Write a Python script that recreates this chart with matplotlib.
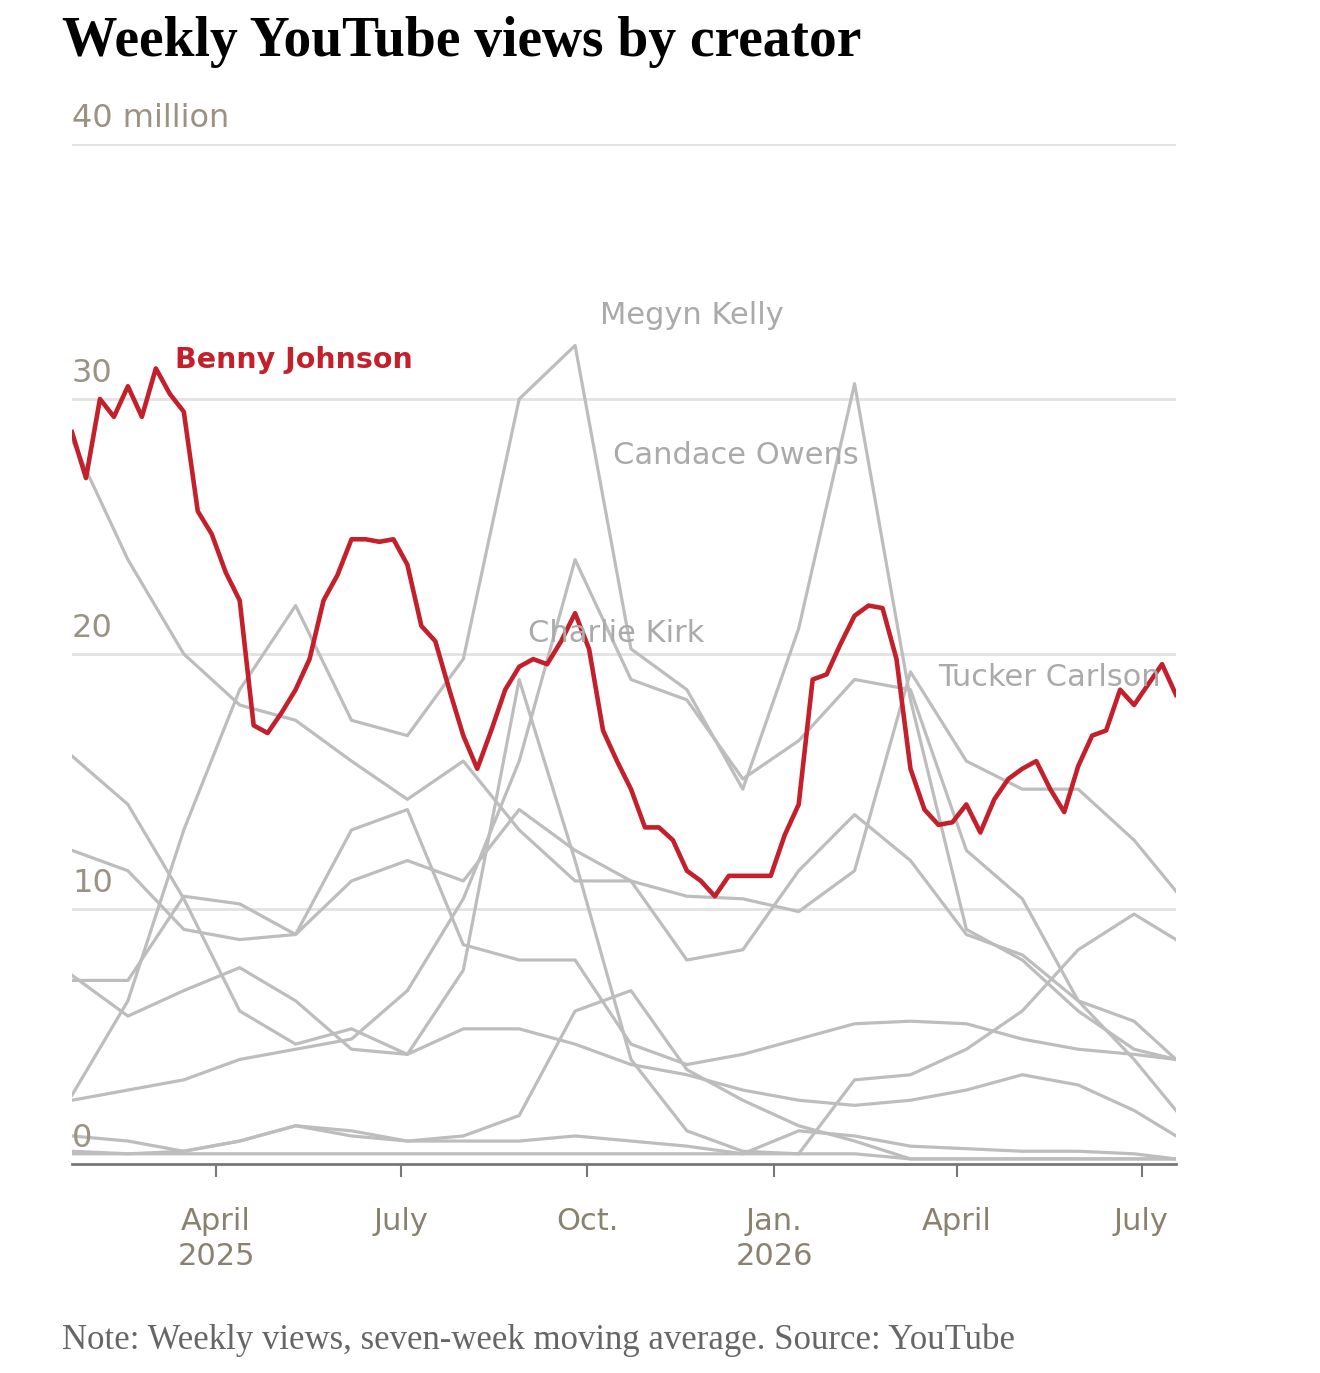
import matplotlib.pyplot as plt
import pandas as pd

# weekly dates (seven-week moving average)
weeks = pd.date_range("2025-01-20", "2026-07-18", periods=80)
gray_weeks = list(weeks[::4]) + [weeks[-1]]

benny = [28.7, 26.9, 30.0, 29.3, 30.5, 29.3, 31.2, 30.2, 29.5, 25.6,
         24.7, 23.2, 22.1, 17.2, 16.9, 17.7, 18.6, 19.8, 22.1, 23.1,
         24.5, 24.5, 24.4, 24.5, 23.5, 21.1, 20.5, 18.6, 16.8, 15.5,
         17.0, 18.6, 19.5, 19.8, 19.6, 20.5, 21.6, 20.2, 17.0, 15.8,
         14.7, 13.2, 13.2, 12.7, 11.5, 11.1, 10.5, 11.3, 11.3, 11.3,
         11.3, 12.9, 14.1, 19.0, 19.2, 20.4, 21.5, 21.9, 21.8, 19.8,
         15.5, 13.9, 13.3, 13.4, 14.1, 13.0, 14.3, 15.1, 15.5, 15.8,
         14.7, 13.8, 15.6, 16.8, 17.0, 18.6, 18.0, 18.8, 19.6, 18.4]

megyn = [2.7, 6.4, 13.1, 18.6, 21.9, 17.4, 16.8, 19.8, 30.0, 32.1, 20.2,
         18.6, 14.7, 21.0, 30.6, 18.2, 9.2, 8.0, 6.0, 4.5, 4.1]
tucker = [28.4, 23.7, 20.0, 18.0, 17.4, 15.8, 14.3, 15.8, 13.1, 11.1, 11.1,
          10.5, 10.4, 9.9, 11.5, 19.3, 15.8, 14.7, 14.7, 12.7, 10.7]
charlie = [16.0, 14.1, 10.4, 6.0, 4.7, 5.3, 4.3, 7.6, 19.0, 11.9, 4.1,
           1.3, 0.5, 0.4, 0.4, 0.2, 0.2, 0.2, 0.2, 0.2, 0.2]
candace = [2.5, 2.9, 3.3, 4.1, 4.5, 4.9, 6.8, 10.4, 15.8, 23.7, 19.0,
           18.2, 15.1, 16.6, 19.0, 18.6, 12.3, 10.4, 6.4, 4.1, 2.1]
other_a = [12.3, 11.5, 9.2, 8.8, 9.0, 11.1, 11.9, 11.1, 13.9, 12.3, 11.1,
           8.0, 8.4, 11.5, 13.7, 11.9, 9.0, 8.2, 6.4, 5.6, 4.1]
other_b = [7.4, 5.8, 6.8, 7.7, 6.4, 4.5, 4.3, 5.3, 5.3, 4.7, 3.9,
           3.5, 2.9, 2.5, 2.3, 2.5, 2.9, 3.5, 3.1, 2.1, 1.1]
other_c = [7.2, 7.2, 10.5, 10.2, 9.0, 13.1, 13.9, 8.6, 8.0, 8.0, 4.7,
           3.9, 4.3, 4.9, 5.5, 5.6, 5.5, 4.9, 4.5, 4.3, 4.1]
other_d = [0.5, 0.4, 0.5, 0.9, 1.5, 1.3, 0.9, 1.1, 1.9, 6.0, 6.8,
           3.7, 2.5, 1.5, 0.9, 0.2, 0.2, 0.2, 0.2, 0.2, 0.2]
other_e = [1.1, 0.9, 0.5, 0.9, 1.5, 1.1, 0.9, 0.9, 0.9, 1.1, 0.9,
           0.7, 0.4, 1.3, 1.1, 0.7, 0.6, 0.5, 0.5, 0.4, 0.2]
other_f = [0.4, 0.4, 0.4, 0.4, 0.4, 0.4, 0.4, 0.4, 0.4, 0.4, 0.4,
           0.4, 0.4, 0.4, 3.3, 3.5, 4.5, 6.0, 8.4, 9.8, 8.8]
gray_series = [megyn, tucker, charlie, candace, other_a, other_b,
               other_c, other_d, other_e, other_f]

tick_dates = pd.to_datetime(["2025-04-01", "2025-07-01", "2025-10-01",
                             "2026-01-01", "2026-04-01", "2026-07-01"])
tick_labels = ["April\n2025", "July", "Oct.", "Jan.\n2026", "April", "July"]

W, H = 1320, 1373
fig = plt.figure(figsize=(W / 100, H / 100), dpi=100)
ax = fig.add_axes([72 / W, 1 - 1164 / H, (1176 - 72) / W, (1164 - 144) / H])

RED = "#c3202b"
GRAY = "#bdbdbd"
TXT = "#9a9283"

for yv in [10, 20, 30, 40]:
    ax.axhline(yv, color="#e2e2e2", lw=2, zorder=0)

for s in gray_series:
    ax.plot(gray_weeks, s, color=GRAY, lw=2.3, zorder=1)
ax.plot(weeks, benny, color=RED, lw=3.3, zorder=3, solid_joinstyle="round")

ax.set_xlim(weeks[0], weeks[-1])
ax.set_ylim(0, 40)
for sp in ["top", "right", "left"]:
    ax.spines[sp].set_visible(False)
ax.spines["bottom"].set_color("#777777")
ax.spines["bottom"].set_linewidth(2)
ax.set_yticks([])
ax.set_xticks(tick_dates)
ax.set_xticklabels(tick_labels, fontsize=22, color="#8a8270", linespacing=1.25)
ax.tick_params(axis="x", length=9, width=1.5, color="#777777", pad=22)

for yv, lab in [(0, "0"), (10, "10"), (20, "20"), (30, "30"), (40, "40 million")]:
    ax.text(weeks[0], yv + 0.4, lab, fontsize=23, color=TXT, va="bottom", ha="left")

fig.text(62 / W, 1 - 42 / H, "Weekly YouTube views by creator", fontsize=40,
         fontweight="bold", family="Liberation Serif", va="center")
fig.text(62 / W, 1 - 1340 / H,
         "Note: Weekly views, seven-week moving average. Source: YouTube",
         fontsize=25, family="Liberation Serif", color="#666666", va="center")

fig.text(175 / W, 1 - 360 / H, "Benny Johnson", fontsize=20.5, fontweight="bold",
         color=RED, va="center")
for x, y, name in [(600, 315, "Megyn Kelly"), (613, 455, "Candace Owens"),
                   (528, 633, "Charlie Kirk"), (938, 678, "Tucker Carlson")]:
    fig.text(x / W, 1 - y / H, name, fontsize=22, color="#aaaaaa", va="center")

fig.savefig("out.png", dpi=100)
